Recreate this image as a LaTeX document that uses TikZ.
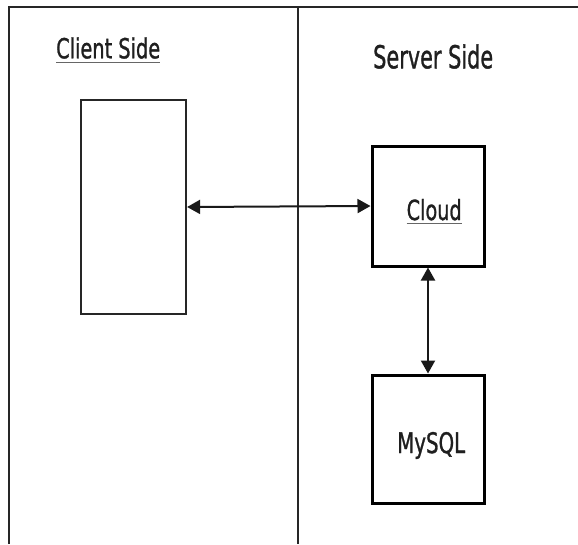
\documentclass[tikz,border=0pt]{standalone}
\usepackage{fontspec}
\setmainfont{DejaVu Sans}
\newfontfamily\lblfont[FakeBold=1.3]{DejaVu Sans}
\usetikzlibrary{arrows.meta}
\newcommand{\fitlabel}[3]{\resizebox{#1pt}{#2pt}{\lblfont #3}}
\begin{document}
\begin{tikzpicture}[x=1pt,y=-1pt,
  frame/.style={line width=2.2pt, draw=black!85},
  thinbox/.style={draw=black!85, line width=2.2pt, inner sep=0pt},
  thickbox/.style={draw=black, line width=3pt, inner sep=0pt},
  link/.style={line width=2pt, draw=black!90, {Triangle[length=13pt,width=14pt]}-{Triangle[length=13pt,width=14pt]}},
  lbl/.style={inner sep=0pt, anchor=base west, text=black!88},
  uline/.style={line width=1.4pt, draw=black!60}]
\useasboundingbox (0,0) rectangle (578,544);
% frame
\draw[frame] (9,544) -- (9,7) -- (578,7);
\draw[frame] (298,7) -- (298,544);
% boxes
\node[thinbox, minimum width=105pt, minimum height=214pt] (client) at (133.5,207) {};
\node[thickbox, minimum width=112pt, minimum height=120pt] (cloud) at (428,206) {};
\node[thickbox, minimum width=112pt, minimum height=128pt] (mysql) at (428,439) {};
% connectors
\draw[link] (client.east) -- (cloud.west);
\draw[link] (cloud.south) -- (mysql.north);
% labels
\node[lbl] (cs) at (56,58.3) {\fitlabel{104}{21}{Client Side}};
\draw[uline] ([yshift=-4pt]cs.base west) -- ([yshift=-4pt]cs.base east);
\node[lbl] (ss) at (373,68.3) {\fitlabel{120}{24}{Server Side}};
\node[lbl] (cl) at (406.5,220) {\fitlabel{55}{21}{Cloud}};
\draw[uline] ([yshift=-3.5pt]cl.base west) -- ([yshift=-3.5pt]cl.base east);
\node[lbl] (my) at (397,453) {\fitlabel{68}{21}{MySQL}};
\end{tikzpicture}
\end{document}
